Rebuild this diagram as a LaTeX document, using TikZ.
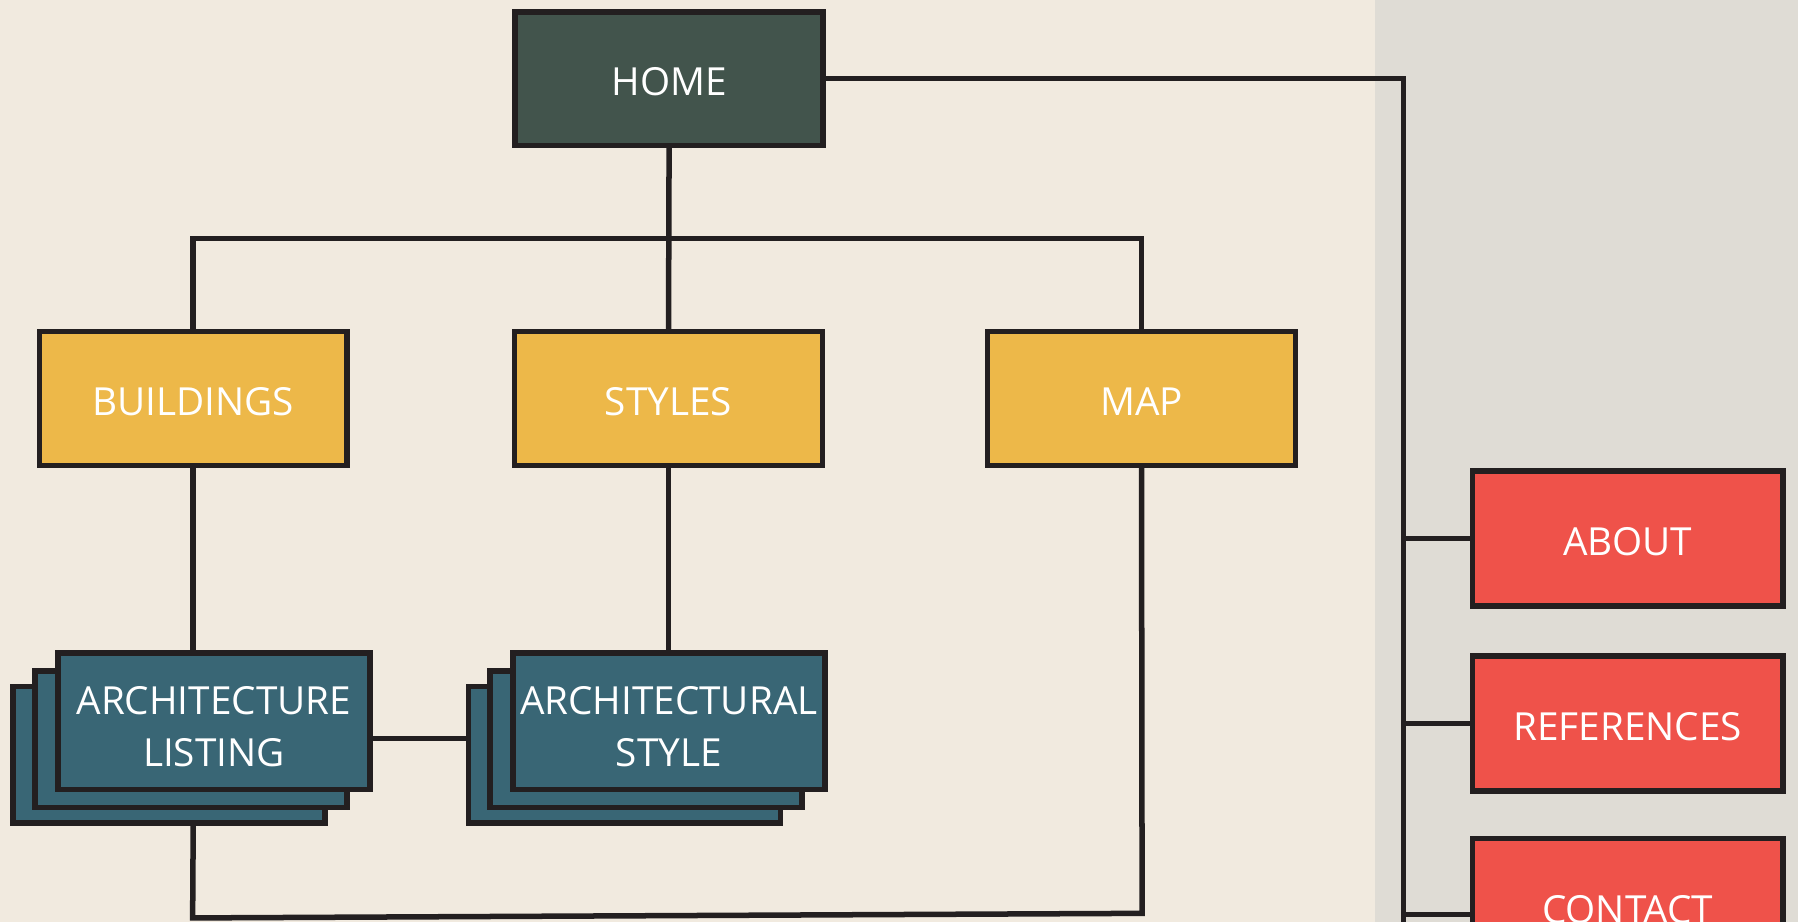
\documentclass[tikz,border=0pt]{standalone}
\usepackage{fontspec}
\newfontfamily\labfont{Open Sans}
\definecolor{bgleft}{HTML}{F1EADF}
\definecolor{bgright}{HTML}{DFDCD5}
\definecolor{ink}{HTML}{231F20}
\definecolor{homefill}{HTML}{42544C}
\definecolor{yel}{HTML}{EDB849}
\definecolor{teal}{HTML}{396675}
\definecolor{redbox}{HTML}{EF524A}
\tikzset{
  box/.style={draw=ink, line width=4.8pt, rectangle, inner sep=0pt, outer sep=0pt,
    minimum width=268.5pt, minimum height=116.5pt, text=white,
    font=\labfont\fontsize{33.75}{45}\selectfont, text height=30.1pt, text depth=0pt},
  homebox/.style={box, fill=homefill},
  secbox/.style={box, fill=yel},
  pagebox/.style={box, fill=teal, minimum width=272pt, minimum height=119pt},
  twoline/.style={align=center, text height=79pt, text depth=0pt},
  sidebox/.style={box, fill=redbox, minimum width=270.5pt, minimum height=117.5pt},
  conn/.style={draw=ink, line width=4.8pt}
}
\begin{document}
\begin{tikzpicture}[x=1pt,y=-1pt]
\useasboundingbox (0,0) rectangle (1568,804);
\clip (0,0) rectangle (1568,804);
\fill[bgleft] (0,0) rectangle (1199,804);
\fill[bgright] (1199,0) rectangle (1568,804);

% nodes
\node[homebox] (home) at (583.5,68.5) {HOME};
\node[secbox] (buildings) at (168.5,347.5) {BUILDINGS};
\node[secbox] (styles) at (583,347.5) {STYLES};
\node[secbox] (map) at (995.5,347.5) {MAP};

% architecture listing stack
\node[pagebox] (listing3) at (147.5,658) {};
\node[pagebox] (listing2) at (166.5,644.5) {};
\node[pagebox, twoline] (listing) at (186.5,629) {ARCHITECTURE\\LISTING};

% architectural style stack
\node[pagebox] (style3) at (544.5,658) {};
\node[pagebox] (style2) at (563.5,644.5) {};
\node[pagebox, twoline] (style) at (583.3,629) {ARCHITECTURAL\\STYLE};

% side pages
\node[sidebox] (about) at (1419.5,469.5) {ABOUT};
\node[sidebox] (references) at (1419.5,631) {REFERENCES};
\node[sidebox] (contact) at (1419.5,790) {CONTACT};

% coordinates
\coordinate (bar) at (583,208);
\coordinate (rtop) at (1224,68.5);
\coordinate (rbot) at (1224,830);
\coordinate (lowL) at (168,800.5);
\coordinate (lowR) at (996,796.5);

% connectors
\draw[conn] (home.south) -- (styles.north);
\draw[conn] (buildings.north) -- (buildings.north |- bar) -- (map.north |- bar) -- (map.north);
\draw[conn] (buildings.south) -- (buildings.south |- listing.north);
\draw[conn] (styles.south) -- (styles.south |- style.north);
\draw[conn] ([yshift=-15pt]listing.east) -- ([yshift=-15pt]listing.east -| style3.west);
\draw[conn] (buildings.south |- listing3.south) -- (lowL) -- (lowR) -- (map.south);
\draw[conn] (home.east) -- (rtop) -- (rbot);
\draw[conn] (about.west -| rtop) -- (about.west);
\draw[conn] (references.west -| rtop) -- (references.west);
\draw[conn] (rtop |- 0,797.7) -- (contact.west |- 0,797.7);
\end{tikzpicture}
\end{document}
